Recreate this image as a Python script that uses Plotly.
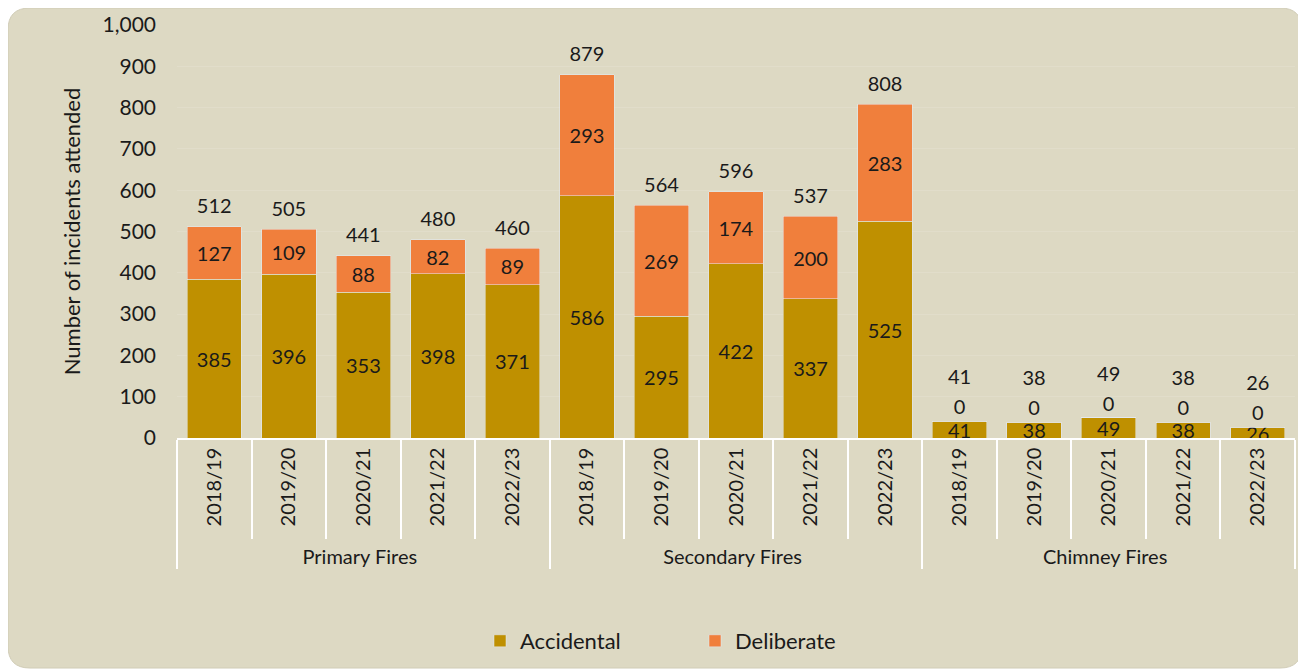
import plotly.graph_objects as go

groups = ["Primary Fires"] * 5 + ["Secondary Fires"] * 5 + ["Chimney Fires"] * 5
years = ["2018/19", "2019/20", "2020/21", "2021/22", "2022/23"] * 3
accidental = [385, 396, 353, 398, 371, 586, 295, 422, 337, 525, 41, 38, 49, 38, 26]
deliberate = [127, 109, 88, 82, 89, 293, 269, 174, 200, 283, 0, 0, 0, 0, 0]
totals = [a + d for a, d in zip(accidental, deliberate)]

FONT = "Lato"
TXT = "#1a1a1a"
ACC = "#BF9000"
DEL = "#F07F3C"
BG = "#DDD9C3"

x = [groups, years]

fig = go.Figure()
fig.add_trace(go.Bar(
    x=x, y=accidental, name="Accidental", marker_color=ACC,
    text=[str(v) for v in accidental], textposition="inside",
    insidetextanchor="middle", textangle=0,
    textfont=dict(family=FONT, size=20, color=TXT), hoverinfo="skip",
))
fig.add_trace(go.Bar(
    x=x, y=deliberate, name="Deliberate", marker_color=DEL,
    text=[str(v) for v in deliberate],
    textposition=["inside" if v > 0 else "outside" for v in deliberate],
    insidetextanchor="middle", textangle=0,
    textfont=dict(family=FONT, size=20, color=TXT),
    outsidetextfont=dict(family=FONT, size=20, color=TXT), hoverinfo="skip",
))
fig.add_trace(go.Scatter(
    x=x, y=totals, mode="markers+text", text=[str(v) for v in totals],
    textposition="top center",
    marker=dict(size=[12 if d > 0 else 50 for d in deliberate], opacity=0),
    textfont=dict(family=FONT, size=20, color=TXT),
    showlegend=False, hoverinfo="skip", cliponaxis=False,
))

# page body has an 8px margin; layout pixel geometry is relative to the figure
OFF = 8
W, H = 1306, 671
L, R, T, B = 177 - OFF, 1295 - OFF, 25 - OFF, 438 - OFF
def px(xp):
    return (xp - L) / (R - L)
def py(yp):
    return (B - yp) / (B - T)
x0, x1, y0, y1, r = 0, 1302 - OFF, 0, 668 - OFF, 22
path = (f"M {px(x0+r)} {py(y0)} L {px(x1-r)} {py(y0)} Q {px(x1)} {py(y0)} {px(x1)} {py(y0+r)} "
        f"L {px(x1)} {py(y1-r)} Q {px(x1)} {py(y1)} {px(x1-r)} {py(y1)} "
        f"L {px(x0+r)} {py(y1)} Q {px(x0)} {py(y1)} {px(x0)} {py(y1-r)} "
        f"L {px(x0)} {py(y0+r)} Q {px(x0)} {py(y0)} {px(x0+r)} {py(y0)} Z")
fig.add_shape(type="path", path=path, xref="paper", yref="paper",
              fillcolor=BG, line=dict(color="#D0CCB6", width=1), layer="below")

fig.update_layout(
    width=W, height=H,
    margin=dict(l=L, r=W - R, t=T, b=H - B, autoexpand=False),
    paper_bgcolor="white", plot_bgcolor="rgba(0,0,0,0)",
    barmode="stack", bargap=0.27,
    font=dict(family=FONT, size=21, color=TXT),
    uniformtext=dict(minsize=20, mode="show"),
    legend=dict(orientation="h", traceorder="normal", x=px(695 - OFF), xanchor="center",
                y=py(641 - OFF), yanchor="middle",
                font=dict(family=FONT, size=22, color=TXT),
                entrywidth=170, bgcolor="rgba(0,0,0,0)"),
    xaxis=dict(
        type="multicategory", range=[-0.5, len(years) - 0.5],
        tickangle=-90, showline=True, linecolor="white",
        linewidth=1.5, ticks="outside", tickson="boundaries", ticklen=99,
        tickcolor="white", tickwidth=1.5, showdividers=True,
        dividercolor="white", dividerwidth=1.5, showgrid=False, automargin=False,
        tickfont=dict(family=FONT, size=20, color=TXT),
    ),
    yaxis=dict(
        range=[0, 1000], dtick=100, tickformat=",", showgrid=True,
        gridcolor="#E1DDCA", gridwidth=1, zeroline=False, automargin=False,
        title=dict(text="Number of incidents attended", standoff=15,
                   font=dict(family=FONT, size=22, color=TXT)),
        tickfont=dict(family=FONT, size=21, color=TXT), ticklabelstandoff=20,
    ),
)

fig.write_html("out.html")
